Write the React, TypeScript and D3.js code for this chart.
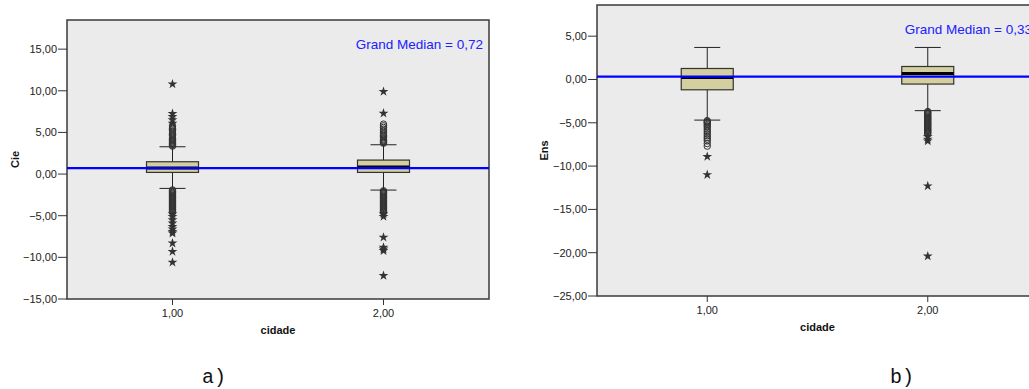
import React from 'react';
import * as d3 from 'd3';

// categories on the x axis
const categories = ['1,00', '2,00'];

// y ticks
const cieTicks = [-15, -10, -5, 0, 5, 10, 15];
const ensTicks = [-25, -20, -15, -10, -5, 0, 5];

// box stats: [lowWhisker, q1, median, q3, highWhisker]
const cieBoxes = [
    [-1.72, 0.2, 0.72, 1.48, 3.28],
    [-1.92, 0.2, 0.85, 1.68, 3.52],
];
const ensBoxes = [
    [-4.69, -1.19, 0.23, 1.27, 3.7],
    [-3.6, -0.53, 0.69, 1.5, 3.7],
];

// outliers (circles) and extremes (stars)
const cieCircles = [
    [3.35, 3.45, 3.55, 3.65, 3.75, 3.85, 3.95, 4.05, 4.15, 4.3, 4.45, 4.6, 4.75, 4.9, 5.05, 5.2, 5.35, 5.5, 5.65, 5.8,
        -1.9, -2.0, -2.1, -2.2, -2.3, -2.4, -2.5, -2.6, -2.7, -2.8, -2.9, -3.0, -3.1, -3.2, -3.3, -3.4, -3.5, -3.6,
        -3.7, -3.8, -3.9, -4.0, -4.1, -4.2, -4.3, -4.4, -4.5, -4.6],
    [3.7, 3.8, 3.9, 4.0, 4.1, 4.2, 4.35, 4.5, 4.65, 4.8, 5.0, 5.2, 5.4, 5.6, 5.8, 6.0,
        -2.0, -2.1, -2.2, -2.3, -2.4, -2.5, -2.6, -2.7, -2.8, -2.9, -3.0, -3.1, -3.2, -3.3, -3.4, -3.5, -3.6,
        -3.7, -3.8, -3.9, -4.0, -4.1, -4.2, -4.3, -4.4, -4.5, -4.6],
];
const cieStars = [
    [6.1, 6.5, 6.9, 7.25, 10.8, -4.8, -5.1, -5.5, -5.9, -6.3, -6.6, -6.9, -7.1, -8.3, -9.3, -10.6],
    [7.3, 9.9, -4.8, -5.1, -7.6, -8.8, -9.0, -9.2, -12.2],
];
const ensCircles = [
    [-4.75, -4.85, -4.95, -5.05, -5.2, -5.35, -5.5, -5.7, -5.9, -6.1, -6.3, -6.5, -6.7, -6.9, -7.1, -7.4, -7.7],
    [-3.7, -3.8, -3.9, -4.0, -4.1, -4.2, -4.3, -4.4, -4.5, -4.6, -4.7, -4.8, -4.9, -5.0, -5.1, -5.2, -5.3, -5.4,
        -5.5, -5.6, -5.7, -5.8, -5.9, -6.0, -6.1, -6.2, -6.3],
];
const ensStars = [
    [-8.9, -11.0],
    [-6.6, -6.9, -7.1, -12.3, -20.4],
];

const cieGrandMedian = 0.72;
const ensGrandMedian = 0.33;

const fmt = (v: number) => d3.format('.2f')(v).replace('.', ',');

const Panel = ({ left, top, right, bottom, domain, ticks, boxes, circles, stars, median, yTitle, titleX }: any) => {
    const x = d3.scalePoint().domain(categories).range([left, right]).padding(0.5);
    const y = d3.scaleLinear().domain(domain).range([bottom, top]);
    const boxW = 52;
    const capW = 26;
    const star = d3.symbol().type(d3.symbolStar).size(30)();
    const font = 'Liberation Sans, Arial, sans-serif';
    return (
        <g>
            <rect x={left} y={top} width={right - left} height={bottom - top} fill="#ebebeb" stroke="#3a3a3a" strokeWidth={1.5} />
            {ticks.map((t: number) => (
                <g key={t}>
                    <line x1={left - 9} x2={left} y1={y(t)} y2={y(t)} stroke="#333" />
                    <text x={left - 10} y={y(t) + 4} textAnchor="end" fontSize={11} fontFamily={font} fill="#222">{fmt(t)}</text>
                </g>
            ))}
            {categories.map((c) => (
                <g key={c}>
                    <line x1={x(c)} x2={x(c)} y1={bottom} y2={bottom + 6} stroke="#333" />
                    <text x={x(c)} y={bottom + 18} textAnchor="middle" fontSize={11} fontFamily={font} fill="#222">{c}</text>
                </g>
            ))}
            <text x={(left + right) / 2} y={bottom + 35} textAnchor="middle" fontSize={11} fontWeight="bold" fontFamily={font} fill="#111">cidade</text>
            <text transform={`translate(${titleX},${(top + bottom) / 2}) rotate(-90)`} textAnchor="middle" dy="0.35em" fontSize={11} fontWeight="bold" fontFamily={font} fill="#111">{yTitle}</text>
            {categories.map((c, i) => {
                const [lo, q1, med, q3, hi] = boxes[i];
                const cx = x(c) as number;
                return (
                    <g key={c}>
                        <line x1={cx} x2={cx} y1={y(hi)} y2={y(q3)} stroke="#222" />
                        <line x1={cx} x2={cx} y1={y(q1)} y2={y(lo)} stroke="#222" />
                        <line x1={cx - capW / 2} x2={cx + capW / 2} y1={y(hi)} y2={y(hi)} stroke="#222" />
                        <line x1={cx - capW / 2} x2={cx + capW / 2} y1={y(lo)} y2={y(lo)} stroke="#222" />
                        <rect x={cx - boxW / 2} y={y(q3)} width={boxW} height={y(q1) - y(q3)} fill="#d4cfa0" stroke="#333" strokeWidth={1.2} />
                        <line x1={cx - boxW / 2} x2={cx + boxW / 2} y1={y(med)} y2={y(med)} stroke="#000" strokeWidth={3} />
                        {circles[i].map((v: number, k: number) => (
                            <circle key={'c' + k} cx={cx} cy={y(v)} r={3.2} fill="none" stroke="#333" strokeWidth={1} />
                        ))}
                        {stars[i].map((v: number, k: number) => (
                            <path key={'s' + k} d={star as string} transform={`translate(${cx},${y(v)})`} fill="#333" />
                        ))}
                    </g>
                );
            })}
            <line x1={left} x2={right} y1={y(median)} y2={y(median)} stroke="#0000ff" strokeWidth={2.2} />
            <text x={right - 6} y={top + 29} textAnchor="end" fontSize={13.5} fontFamily={font} fill="#2020ff">{'Grand Median = ' + fmt(median)}</text>
        </g>
    );
};

const App = () => {
    return (
        <svg width={1029} height={389} style={{ position: 'absolute', left: 0, top: 0, background: '#fff' }}>
            <Panel left={67} top={20} right={489} bottom={299} domain={[-15, 18.5]} ticks={cieTicks}
                boxes={cieBoxes} circles={cieCircles} stars={cieStars} median={cieGrandMedian} yTitle="Cie" titleX={15} />
            <Panel left={597} top={5} right={1038} bottom={296} domain={[-25, 8.6]} ticks={ensTicks}
                boxes={ensBoxes} circles={ensCircles} stars={ensStars} median={ensGrandMedian} yTitle="Ens" titleX={544} />
            <text x={214} y={383} textAnchor="middle" fontSize={20} fontFamily="Liberation Mono, Courier New, monospace" fill="#111">a)</text>
            <text x={902} y={383} textAnchor="middle" fontSize={20} fontFamily="Liberation Mono, Courier New, monospace" fill="#111">b)</text>
        </svg>
    );
};

export default App;
